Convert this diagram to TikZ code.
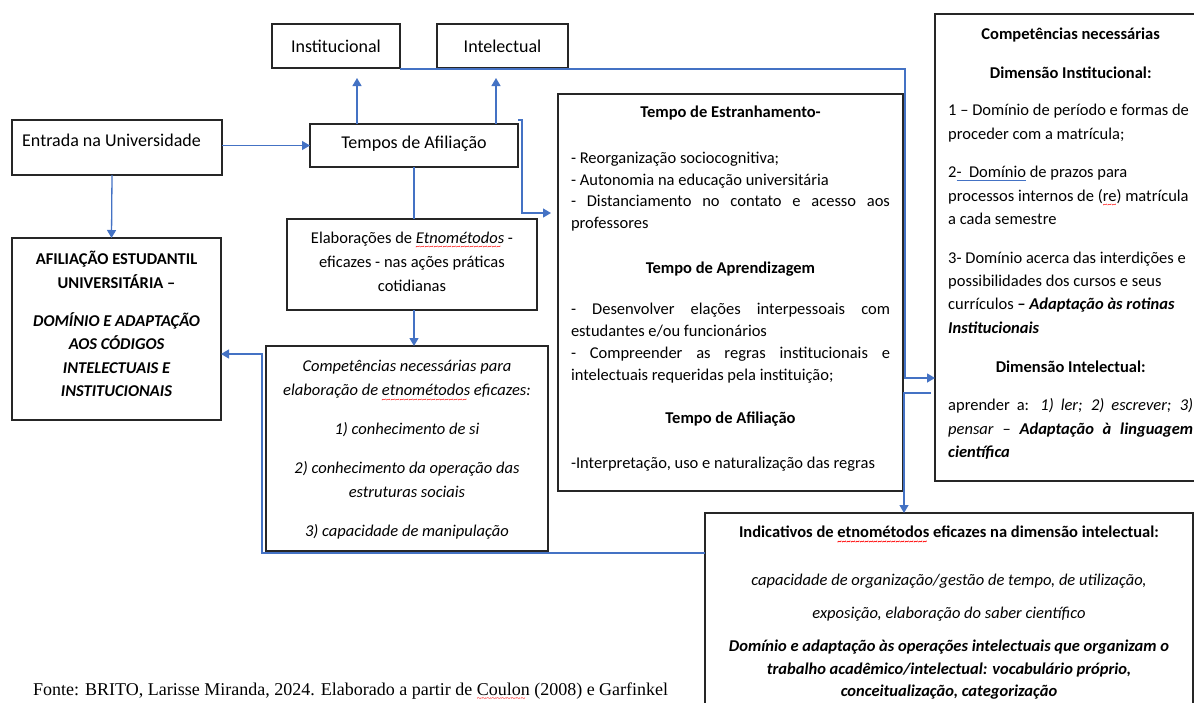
\documentclass[tikz,border=0pt]{standalone}
\usepackage{fontspec}
\setmainfont{Carlito}
\newfontfamily\fonteTimes{Liberation Serif}
\usetikzlibrary{arrows.meta}
\definecolor{linhaAzul}{HTML}{4472C4}
\definecolor{borda}{HTML}{262626}
\newsavebox{\caixaErro}
\newcommand{\erroGrafia}[1]{\sbox\caixaErro{#1}\rlap{\textcolor{red}{\raisebox{-6.5pt}{\fontsize{9}{9}\selectfont\leaders\hbox{\char`\~}\hskip\wd\caixaErro}}}\usebox\caixaErro}
\newcommand{\sublinhaAzul}[1]{\sbox\caixaErro{#1}\rlap{\textcolor{linhaAzul}{\rule[-3pt]{\wd\caixaErro}{0.8pt}}}\usebox\caixaErro}
\newcommand{\drawCaixa}[5]{
	\node[caixa, minimum width=#4pt, minimum height=#5pt] (#1) at (#2,#3) {};
}
\tikzset{
	caixa/.style={draw=borda, line width=1.3pt, inner sep=0pt, outer sep=0pt, anchor=north west},
	ligacao/.style={draw=linhaAzul, line width=1.3pt},
	rotulo/.style={inner sep=0pt, font=\fontsize{18}{22}\selectfont},
	>={Triangle[width=9pt,length=8pt]}
}

\begin{document}
\begin{tikzpicture}[x=1pt, y=-1pt]

		\useasboundingbox (0,0) rectangle (1194,702);
		\clip (0,0) rectangle (1194,702);

		\coordinate (instSeta) at (357,78);
		\coordinate (intelSeta) at (496,78);
		\coordinate (ganchoTopo) at (522,120);
		\coordinate (ganchoBase) at (522,213);
		\coordinate (cantoSup) at (905,69);
		\coordinate (cantoInf) at (905,378);
		\coordinate (desvio) at (904,393);
		\coordinate (retornoBase) at (262,553);
		\coordinate (retornoTopo) at (262,354);

		\drawCaixa{inst}{272}{24}{128}{44}
		\drawCaixa{intel}{437}{24}{131}{44}
		\drawCaixa{entrada}{12}{120}{210}{55}
		\drawCaixa{tempos}{310}{124}{208}{43}
		\drawCaixa{afil}{12}{238}{209}{182}
		\drawCaixa{elab}{287}{219}{250}{91}
		\drawCaixa{compet}{266}{346}{282}{205}
		\drawCaixa{estr}{558}{94}{345}{397}
		\drawCaixa{compnec}{935}{14}{270}{467}
		\drawCaixa{indic}{705}{513}{488}{220}

		\node[rotulo] (instTxt) at (inst.center) {Institucional};
		\node[rotulo] (intelTxt) at (intel.center) {Intelectual};
		\node[rotulo, anchor=base west] (entradaTxt) at (22,146) {Entrada na Universidade};
		\node[rotulo] (temposTxt) at ([yshift=2pt]tempos.center) {Tempos de Afiliação};

		\node[inner sep=0pt, anchor=north] (afilTxt) at ([yshift=-13pt]afil.north) {\parbox{205pt}{\centering\fontsize{16.5}{23.5}\selectfont\bfseries
			AFILIAÇÃO ESTUDANTIL\\ UNIVERSITÁRIA –\par\vspace{14.5pt}
			\itshape DOMÍNIO E ADAPTAÇÃO\\ AOS CÓDIGOS\\ INTELECTUAIS E\\ INSTITUCIONAIS}};

		\node[inner sep=0pt] (elabTxt) at ([yshift=3pt]elab.center) {\parbox{245pt}{\centering\fontsize{16.5}{24}\selectfont
			Elaborações de \textit{\erroGrafia{Etnométodos}} -\\ eficazes - nas ações práticas\\ cotidianas}};

		\node[inner sep=0pt, anchor=north] (competTxt) at ([yshift=-14pt]compet.north) {\parbox{278pt}{\centering\fontsize{16.5}{24}\selectfont\itshape
			Competências necessárias para\\ elaboração de \erroGrafia{etnométodos} eficazes:\par\vspace{15pt}
			1) conhecimento de si\par\vspace{15pt}
			2) conhecimento da operação das\\ estruturas sociais\par\vspace{15pt}
			3) capacidade de manipulação}};

		\node[inner sep=0pt, anchor=north] (estrTxt) at ([yshift=-12pt]estr.north) {\parbox{319pt}{\fontsize{16.5}{21.7}\selectfont
			\centerline{\textbf{Tempo de Estranhamento-}}\par\vspace{24pt}
			- Reorganização sociocognitiva;\\ - Autonomia na educação universitária\\ - Distanciamento no contato e acesso aos\linebreak professores\par\vspace{23pt}
			\centerline{\textbf{Tempo de Aprendizagem}}\par\vspace{20pt}
			- Desenvolver elações interpessoais com\linebreak estudantes e/ou funcionários\\ - Compreender as regras institucionais e\linebreak intelectuais requeridas pela instituição;\par\vspace{22pt}
			\centerline{\textbf{Tempo de Afiliação}}\par\vspace{23pt}
			-Interpretação, uso e naturalização das regras}};

		\node[inner sep=0pt, anchor=north west] (compnecTxt) at (948,28) {\parbox{245pt}{\raggedright\fontsize{16.5}{23.3}\selectfont
			\centerline{\textbf{Competências necessárias}}\par\vspace{15.5pt}
			\centerline{\textbf{Dimensão Institucional:}}\par\vspace{14pt}
			1 – Domínio de período e formas de\\ proceder com a matrícula;\par\vspace{15.5pt}
			2\sublinhaAzul{-\ \ Domínio} de prazos para\\ processos internos de (\erroGrafia{re}) matrícula\\ a cada semestre\par\vspace{15.5pt}
			3- Domínio acerca das interdições e\\ possibilidades dos cursos e seus\\ currículos \textbf{\textit{– Adaptação às rotinas\\ Institucionais}}\par\vspace{15.5pt}
			\centerline{\textbf{Dimensão Intelectual:}}\par\vspace{15.5pt}
			\rightskip=0pt aprender a: \textit{1) ler; 2) escrever; 3)}\linebreak \textit{pensar} – \textbf{\textit{Adaptação à linguagem}}\linebreak \textbf{\textit{científica}}\par}};

		\node[inner sep=0pt, anchor=north] (indicTxt) at ([yshift=-13pt]indic.north) {\parbox{480pt}{\centering\fontsize{16.5}{22.5}\selectfont
			\textbf{Indicativos de \erroGrafia{etnométodos} eficazes na dimensão intelectual:}\par\vspace{25.5pt}
			\textit{capacidade de organização/gestão de tempo, de utilização,}\par\vspace{10.5pt}
			\textit{exposição, elaboração do saber científico}\par\vspace{10.5pt}
			\textbf{\textit{Domínio e adaptação às operações intelectuais que organizam o\\ trabalho acadêmico/intelectual: vocabulário próprio,\\ conceitualização, categorização}}}};

		\node[inner sep=0pt, anchor=base west, font=\fonteTimes\fontsize{18}{20}\selectfont] (fonte) at (33,695) {Fonte: BRITO, Larisse Miranda, 2024. Elaborado a partir de \erroGrafia{Coulon} (2008) e Garfinkel};

		\draw[ligacao, ->] (tempos.north -| instSeta) -- (instSeta);
		\draw[ligacao, ->] (tempos.north -| intelSeta) -- (intelSeta);
		\draw[ligacao, ->] (tempos.west -| entrada.east) -- (tempos.west);
		\draw[ligacao, ->] ([xshift=-5pt]entrada.south) -- ([xshift=-5pt]afil.north);
		\draw[ligacao] (tempos.south) -- (tempos.south |- elab.north);
		\draw[ligacao, ->] (elab.south -| tempos.south) -- (tempos.south |- compet.north);
		\draw[ligacao, ->] (ganchoTopo -| tempos.east) -- (ganchoTopo) -- (ganchoBase) -- ([xshift=-7pt]ganchoBase -| estr.west);
		\draw[ligacao, ->] (cantoSup -| inst.east) -- (cantoSup) -- (cantoInf) -- (cantoInf -| compnec.west);
		\draw[ligacao, ->] ([xshift=-4pt]desvio -| compnec.west) -- (desvio) -- (desvio |- indic.north);
		\draw[ligacao, ->] (retornoBase -| indic.west) -- (retornoBase) -- (retornoTopo) -- (retornoTopo -| afil.east);

	\end{tikzpicture}
\end{document}
